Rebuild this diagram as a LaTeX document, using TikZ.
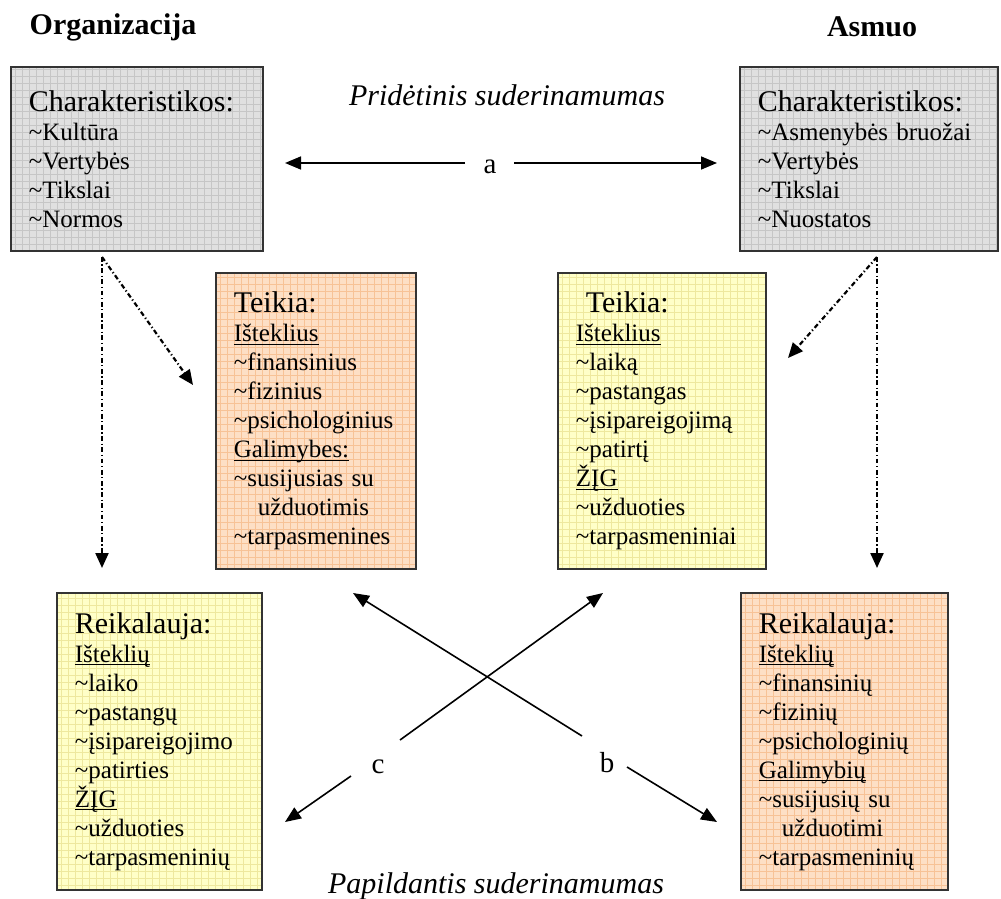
\documentclass[tikz,border=0pt]{standalone}
\usepackage{fontspec}
\setmainfont{Liberation Serif}
\usetikzlibrary{arrows.meta}
\definecolor{charfill}{RGB}{224,224,224}
\definecolor{chargrid}{RGB}{198,198,198}
\definecolor{orfill}{RGB}{253,223,197}
\definecolor{orgrid}{RGB}{247,194,150}
\definecolor{yelfill}{RGB}{255,255,200}
\definecolor{yelgrid}{RGB}{238,232,158}
\newcommand{\tld}{\textasciitilde}
\newcommand{\hd}[1]{{\fontsize{15}{17}\selectfont #1}}
\newcommand{\undl}[1]{\leavevmode\setbox0\hbox{#1}\rlap{\rule[-1.6pt]{\wd0}{0.5pt}}\box0}

\begin{document}
\hyphenpenalty=10000
\begin{tikzpicture}[x=0.5pt,y=-0.5pt,
					every node/.style = {font=\fontsize{12.5}{14.5}\selectfont},
					gridded/.style = {fill=#1fill, path picture={\draw[#1grid, line width=0.35pt, step=3.5pt] (path picture bounding box.south west) grid (path picture bounding box.north east);}}]

\tikzstyle{box}=[rectangle, draw=black!80, line width=0.9pt, anchor=north west, align=left, inner xsep=9pt]
\tikzstyle{title}=[font=\fontsize{15}{17}\selectfont\bfseries]
\tikzstyle{caption}=[font=\fontsize{15}{17}\selectfont\itshape]
\tikzstyle{letter}=[font=\fontsize{14.5}{17}\selectfont]
\tikzstyle{arr}=[line width=0.8pt, -{Triangle[length=8pt,width=6.5pt]}]
\tikzstyle{dd}=[line width=1.1pt, dash pattern=on 2.4pt off 1.3pt on 0.6pt off 1.3pt, -{Triangle[length=7.5pt,width=6.5pt]}]

\useasboundingbox (0,0) rectangle (1001,899);

\node[title] (org) at (113,27) {Organizacija};
\node[title] (asm) at (872,27) {Asmuo};

\node[box, gridded=char, text width=108pt, minimum height=92pt] (orgChar) at (10,66)
	{\hd{Charakteristikos:}\\ \tld Kultūra\\ \tld Vertybės\\ \tld Tikslai\\ \tld Normos};
\node[box, gridded=char, text width=111pt, minimum height=92pt] (asmChar) at (739,66)
	{\hd{Charakteristikos:}\\ \tld Asmenybės bruožai\\ \tld Vertybės\\ \tld Tikslai\\ \tld Nuostatos};

\node[box, gridded=or, text width=82pt, minimum height=148pt] (orgGive) at (215,272)
	{\hd{Teikia:}\\ \undl{Išteklius}\\ \tld finansinius\\ \tld fizinius\\ \tld psichologinius\\ \undl{Galimybes:}\\ \tld susijusias su\\ \hspace*{12pt}užduotimis\\ \tld tarpasmenines};
\node[box, gridded=yel, text width=86pt, minimum height=148pt] (asmGive) at (557,272)
	{\hd{\hspace*{5pt}Teikia:}\\ \undl{Išteklius}\\ \tld laiką\\ \tld pastangas\\ \tld įsipareigojimą\\ \tld patirtį\\ \undl{ŽĮG}\\ \tld užduoties\\ \tld tarpasmeniniai};

\node[box, gridded=yel, text width=84.5pt, minimum height=148.5pt] (orgNeed) at (56,592)
	{\hd{Reikalauja:}\\ \undl{Išteklių}\\ \tld laiko\\ \tld pastangų\\ \tld įsipareigojimo\\ \tld patirties\\ \undl{ŽĮG}\\ \tld užduoties\\ \tld tarpasmeninių};
\node[box, gridded=or, text width=85.5pt, minimum height=148.5pt] (asmNeed) at (740,592)
	{\hd{Reikalauja:}\\ \undl{Išteklių}\\ \tld finansinių\\ \tld fizinių\\ \tld psichologinių\\ \undl{Galimybių}\\ \tld susijusių su\\ \hspace*{11.5pt}užduotimi\\ \tld tarpasmeninių};

\node[caption] (added) at (507,95) {Pridėtinis suderinamumas};
\node[caption] (compl) at (496,886) {Papildantis suderinamumas};

\node[letter] (a) at (490,167) {a};
\node[letter] (b) at (607,763) {b};
\node[letter] (c) at (378,767) {c};

\coordinate (aL) at (465,163);
\coordinate (aLtip) at (285,163);
\coordinate (aR) at (514,163);
\coordinate (aRtip) at (717,163);
\draw[arr] (aL) -- (aLtip);
\draw[arr] (aR) -- (aRtip);

\coordinate (bUp) at (582,736);
\coordinate (bUptip) at (353,593);
\coordinate (bDown) at (627,767);
\coordinate (bDowntip) at (717,822);
\draw[arr] (bUp) -- (bUptip);
\draw[arr] (bDown) -- (bDowntip);

\coordinate (cUp) at (400,740);
\coordinate (cUptip) at (603,593);
\coordinate (cDown) at (351,776);
\coordinate (cDowntip) at (285,822);
\draw[arr] (cUp) -- (cUptip);
\draw[arr] (cDown) -- (cDowntip);

\coordinate (orgSrc) at (102,257);
\coordinate (orgDown) at (102,568);
\coordinate (orgSide) at (193,385);
\draw[dd] (orgSrc) -- (orgDown);
\draw[dd] (orgSrc) -- (orgSide);

\coordinate (asmSrc) at (877,257);
\coordinate (asmDown) at (877,568);
\coordinate (asmSide) at (788,358);
\draw[dd] (asmSrc) -- (asmDown);
\draw[dd] (asmSrc) -- (asmSide);
\end{tikzpicture}
\end{document}
